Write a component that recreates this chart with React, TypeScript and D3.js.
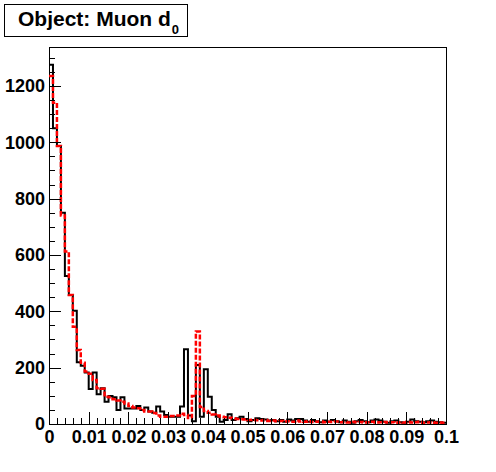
import React, { useEffect, useRef } from "react";
import * as d3 from "d3";

// 100 bins over [0, 0.1]
const xMin = 0;
const xMax = 0.1;
const yMax = 1338;

const blackCounts = [
  1275, 1050, 987, 750, 525, 458, 402, 219, 207, 183,
  124, 183, 106, 127, 79, 99, 95, 50, 95, 55,
  55, 55, 64, 50, 59, 44, 40, 62, 44, 32,
  26, 26, 26, 62, 265, 30, 10, 209, 26, 194,
  97, 50, 26, 8, 14, 35, 14, 20, 26, 18,
  10, 14, 20, 18, 16, 12, 14, 10, 14, 8,
  16, 12, 18, 18, 12, 8, 14, 10, 6, 12,
  8, 14, 10, 6, 12, 8, 4, 10, 14, 10,
  6, 12, 16, 12, 8, 4, 10, 12, 6, 4,
  8, 16, 10, 8, 6, 10, 12, 8, 6, 4,
];

const redCounts = [
  1235, 1140, 987, 740, 612, 458, 345, 263, 217, 186,
  178, 156, 127, 125, 97, 95, 88, 83, 79, 73,
  64, 59, 56, 50, 44, 44, 39, 30, 26, 26,
  28, 28, 30, 36, 32, 21, 99, 328, 60, 46,
  40, 34, 30, 26, 24, 22, 20, 18, 17, 16,
  14, 15, 13, 12, 14, 11, 12, 10, 11, 9,
  10, 8, 12, 9, 8, 10, 7, 8, 9, 6,
  8, 7, 9, 6, 7, 5, 8, 6, 7, 5,
  6, 8, 5, 6, 7, 5, 6, 4, 6, 5,
  7, 5, 6, 8, 4, 5, 6, 4, 5, 4,
];

const xTickLabels = ["0", "0.01", "0.02", "0.03", "0.04", "0.05", "0.06", "0.07", "0.08", "0.09", "0.1"];
const yTickValues = [0, 200, 400, 600, 800, 1000, 1200];

const W = 496, H = 472;
const frame = { left: 49, right: 446, top: 47, bottom: 424 };
const font = "'Liberation Sans', Arial, Helvetica, sans-serif";

export default function App() {
  const ref = useRef<SVGSVGElement>(null);

  useEffect(() => {
    const svg = d3.select(ref.current);
    svg.selectAll("*").remove();

    const x = d3.scaleLinear().domain([xMin, xMax]).range([frame.left, frame.right]);
    const y = d3.scaleLinear().domain([0, yMax]).range([frame.bottom, frame.top]);

    const nBins = blackCounts.length;
    const binW = (xMax - xMin) / nBins;

    svg.append("rect").attr("width", W).attr("height", H).attr("fill", "#fff");

    // frame
    svg.append("rect")
      .attr("x", frame.left).attr("y", frame.top)
      .attr("width", frame.right - frame.left).attr("height", frame.bottom - frame.top)
      .attr("fill", "none").attr("stroke", "#000").attr("stroke-width", 1)
      .attr("shape-rendering", "crispEdges");

    const stepLine = (counts: number[]) => {
      const pts: [number, number][] = counts.map((c, i) => [xMin + i * binW, c]);
      pts.push([xMax, counts[counts.length - 1]]);
      return d3.line<[number, number]>()
        .x(d => x(d[0]))
        .y(d => y(d[1]))
        .curve(d3.curveStepAfter)(pts);
    };

    svg.append("path")
      .attr("d", stepLine(blackCounts))
      .attr("fill", "none")
      .attr("stroke", "#000")
      .attr("stroke-width", 2);

    svg.append("path")
      .attr("d", stepLine(redCounts))
      .attr("fill", "none")
      .attr("stroke", "#ff0000")
      .attr("stroke-width", 2.5)
      .attr("stroke-dasharray", "5,2");

    // y axis: majors + minors, ticks pointing inward
    const yMinor = d3.range(0, yMax, 50).filter(v => v % 200 !== 0);
    svg.append("g")
      .attr("transform", `translate(${frame.left},0)`)
      .call(d3.axisLeft(y).tickValues(yMinor).tickSize(-6).tickFormat(() => ""))
      .call(g => g.select(".domain").remove());
    svg.append("g")
      .attr("transform", `translate(${frame.left},0)`)
      .call(d3.axisLeft(y).tickValues(yTickValues).tickSize(-12).tickPadding(4).tickFormat(d3.format("d")))
      .call(g => g.select(".domain").remove())
      .call(g => g.selectAll("text")
        .attr("font-family", font).attr("font-weight", "bold").attr("font-size", 18).attr("fill", "#000"));

    // x axis
    const xMajors = xTickLabels.map(Number);
    const xMinor = d3.range(0, 50).map(i => i * 0.002).filter((_, i) => i % 5 !== 0);
    svg.append("g")
      .attr("transform", `translate(0,${frame.bottom})`)
      .call(d3.axisBottom(x).tickValues(xMinor).tickSize(-6).tickFormat(() => ""))
      .call(g => g.select(".domain").remove());
    svg.append("g")
      .attr("transform", `translate(0,${frame.bottom})`)
      .call(d3.axisBottom(x).tickValues(xMajors).tickSize(-12).tickPadding(6)
        .tickFormat((d, i) => xTickLabels[i]))
      .call(g => g.select(".domain").remove())
      .call(g => g.selectAll("text")
        .attr("font-family", font).attr("font-weight", "bold").attr("font-size", 18).attr("fill", "#000"));

    svg.selectAll(".tick line").attr("stroke", "#000").attr("shape-rendering", "crispEdges");

    // title box
    svg.append("rect")
      .attr("x", 4.5).attr("y", 4.5).attr("width", 183).attr("height", 32)
      .attr("fill", "#fff").attr("stroke", "#000").attr("stroke-width", 1);
    const title = svg.append("text")
      .attr("x", 18).attr("y", 26)
      .attr("font-family", font).attr("font-weight", "bold").attr("font-size", 21)
      .attr("fill", "#000")
      .text("Object: Muon d");
    title.append("tspan")
      .attr("dx", 1).attr("dy", 8)
      .attr("font-size", 13)
      .text("0");
  }, []);

  return (
    <svg ref={ref} width={W} height={H}
      style={{ position: "absolute", left: 0, top: 0, display: "block" }} />
  );
}
